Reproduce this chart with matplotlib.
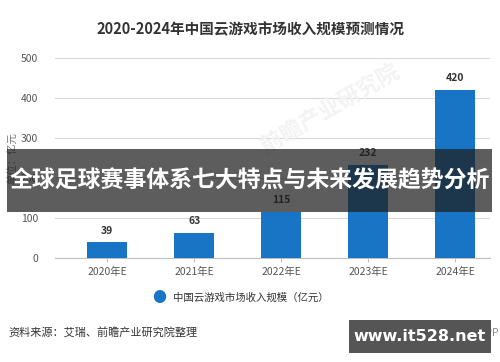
import matplotlib.pyplot as plt
from matplotlib.patches import Rectangle

plt.rcParams['font.family'] = ['Noto Sans CJK SC', 'DejaVu Sans']

# data
years = ["2020年E", "2021年E", "2022年E", "2023年E", "2024年E"]
revenue = [39, 63, 115, 232, 420]
yticks = [0, 100, 200, 300, 400, 500]

title = "2020-2024年中国云游戏市场收入规模预测情况"
legend_label = "中国云游戏市场收入规模（亿元）"
source = "资料来源：艾瑞、前瞻产业研究院整理"
banner = "全球足球赛事体系七大特点与未来发展趋势分析"
site = "www.it528.net"

fig = plt.figure(figsize=(5, 3.62), dpi=100)
ax = fig.add_axes([0.11, 0.287, 0.87, 0.553])

ax.bar(years, revenue, width=0.46, color="#1874c4", zorder=3)
for x, v in zip(years, revenue):
    ax.annotate(str(v), (x, v), xytext=(0, 5), textcoords="offset points",
                ha="center", va="bottom", fontsize=7.5, fontweight="bold", color="#333333")

ax.set_ylim(0, 500)
ax.set_yticks(yticks)
ax.set_xlim(-0.6, 4.4)
ax.grid(axis="y", color="#d9d9d9", linewidth=0.8, zorder=0)
for s in ["top", "right", "left"]:
    ax.spines[s].set_visible(False)
ax.spines["bottom"].set_color("#bfbfbf")
ax.tick_params(axis="y", length=0, labelsize=7.5, labelcolor="#555555", pad=12)
ax.tick_params(axis="x", length=3, color="#bfbfbf", labelsize=7.5, labelcolor="#555555")
ax.set_ylabel("单位：亿元", fontsize=7.5, color="#777777", labelpad=2)

fig.text(0.5, 0.918, title, ha="center", va="center", fontsize=10.5, fontweight="bold", color="#333333")

# legend
fig.text(0.318, 0.178, "●", ha="center", va="center", fontsize=10, color="#1874c4")
fig.text(0.345, 0.178, legend_label, ha="left", va="center", fontsize=7.5, color="#333333")

fig.text(0.016, 0.083, source, ha="left", va="center", fontsize=8, color="#333333")
fig.text(0.998, 0.083, "@前瞻经济学人APP", ha="right", va="center", fontsize=7.5, color="#888888")

# faint background watermark
fig.text(0.66, 0.7, "前瞻产业研究院", ha="center", va="center", fontsize=16, rotation=30,
         color="#f3f3f3", fontweight="bold", zorder=0)

# dark banner over the chart
fig.patches.append(Rectangle((0.014, 0.414), 0.97, 0.174, transform=fig.transFigure,
                             facecolor="#1e1e1e", alpha=0.72, edgecolor="none", zorder=5))
fig.text(0.5, 0.5, banner, ha="center", va="center", fontsize=16.5, fontweight="bold",
         color="white", zorder=6)

# site box
fig.patches.append(Rectangle((0.698, 0.025), 0.284, 0.092, transform=fig.transFigure,
                             facecolor="#555555", edgecolor="none", zorder=5))
fig.text(0.84, 0.071, site, ha="center", va="center", fontsize=11.5, fontweight="bold",
         color="white", family=["DejaVu Sans"], zorder=6)

fig.savefig("out.png", dpi=100)
